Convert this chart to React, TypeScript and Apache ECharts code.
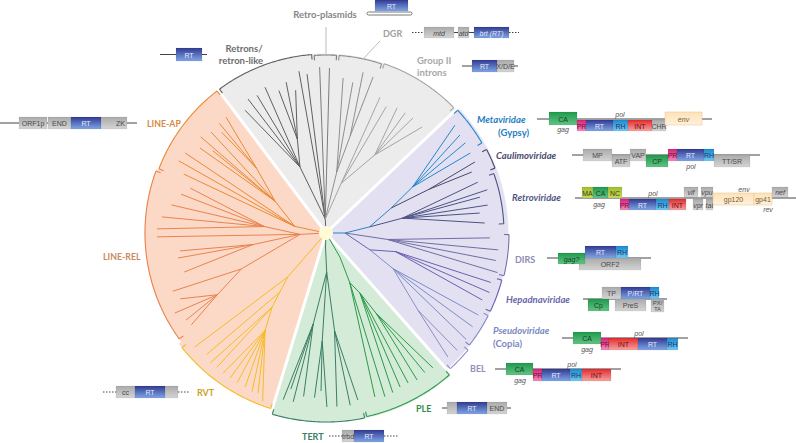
import React, { useEffect, useRef } from 'react';
import * as echarts from 'echarts';

// ---------- DATA ----------
// tree nodes: [id, parent, angle (deg, ccw from east), branch radius, clade]
const treeNodes: [string, string, number, number, string][] = [
  ['g', 'o', 93, 14, 'ret'],
  ['gr', 'g', 111.5, 71, 'ret'],
  ['-', 'gr', 123.4, 147, 'ret'],
  ['-', 'gr', 120.2, 155, 'ret'],
  ['-', 'gr', 116.6, 154, 'ret'],
  ['-', 'gr', 112.7, 158, 'ret'],
  ['gr2', 'gr', 107, 98, 'ret'],
  ['-', 'gr2', 108.3, 150, 'ret'],
  ['-', 'gr2', 104.8, 156, 'ret'],
  ['-', 'gr2', 102, 146, 'ret'],
  ['-', 'g', 99.5, 164, 'ret'],
  ['-', 'g', 96.8, 160, 'ret'],
  ['-', 'g', 92.2, 166, 'rp'],
  ['-', 'g', 88.8, 165, 'rp'],
  ['gd', 'g', 80, 62, 'dgr'],
  ['-', 'gd', 83.7, 156, 'dgr'],
  ['-', 'gd', 79.9, 153, 'dgr'],
  ['gd2', 'gd', 76, 100, 'dgr'],
  ['-', 'gd2', 77, 165, 'dgr'],
  ['-', 'gd2', 73.2, 163, 'dgr'],
  ['gi', 'g', 73, 52, 'g2'],
  ['-', 'gi', 68.3, 146, 'g2'],
  ['-', 'gi', 64.5, 140, 'g2'],
  ['gi2', 'gi', 58, 92, 'g2'],
  ['-', 'gi2', 60.4, 144, 'g2'],
  ['-', 'gi2', 56.6, 144, 'g2'],
  ['-', 'gi2', 52.9, 144, 'g2'],
  ['-', 'gi2', 47.8, 143, 'g2'],
  ['p', 'o', 0, 19, 'meta'],
  ['pm', 'p', 8, 44, 'meta'],
  ['pm2', 'pm', 21, 70, 'meta'],
  ['pmm', 'pm2', 28, 98, 'meta'],
  ['-', 'pmm', 39.9, 168, 'meta'],
  ['-', 'pmm', 36.2, 166, 'meta'],
  ['-', 'pmm', 32.9, 166, 'meta'],
  ['-', 'pmm', 29, 165, 'meta'],
  ['pc', 'pm2', 23, 112, 'caul'],
  ['-', 'pc', 25.5, 165, 'caul'],
  ['-', 'pc', 22.7, 158, 'caul'],
  ['pr', 'pm', 11, 78, 'retro'],
  ['-', 'pr', 18.5, 160, 'retro'],
  ['-', 'pr', 15, 167, 'retro'],
  ['-', 'pr', 13.1, 158, 'retro'],
  ['-', 'pr', 9.8, 164, 'retro'],
  ['-', 'pr', 7.4, 155, 'retro'],
  ['-', 'pr', 3.6, 159, 'retro'],
  ['pd', 'p', 354, 62, 'dirs'],
  ['-', 'pd', 358.3, 164, 'dirs'],
  ['-', 'pd', 354.4, 173, 'dirs'],
  ['-', 'pd', 350.8, 172, 'dirs'],
  ['-', 'pd', 347, 176, 'dirs'],
  ['pq', 'p', 339, 47, 'hep'],
  ['ph', 'pq', 345, 72, 'hep'],
  ['-', 'ph', 343.3, 172, 'hep'],
  ['-', 'ph', 340, 174, 'hep'],
  ['-', 'ph', 336.8, 170, 'hep'],
  ['pb', 'pq', 332, 76, 'pseudo'],
  ['-', 'pb', 331.7, 173, 'pseudo'],
  ['-', 'pb', 327.4, 174, 'pseudo'],
  ['-', 'pb', 322.8, 176, 'pseudo'],
  ['pbl', 'pb', 320, 120, 'bel'],
  ['-', 'pbl', 318.2, 176, 'bel'],
  ['-', 'pbl', 314.5, 174, 'bel'],
  ['t', 'o', 268, 14, 'tert'],
  ['tt', 't', 271, 39, 'tert'],
  ['tt2', 'tt', 262, 92, 'tert'],
  ['-', 'tt2', 255.6, 172, 'tert'],
  ['-', 'tt2', 257.3, 160, 'tert'],
  ['-', 'tt2', 259, 172, 'tert'],
  ['-', 'tt2', 262.2, 165, 'tert'],
  ['tt3', 'tt', 268, 108, 'tert'],
  ['-', 'tt3', 266, 165, 'tert'],
  ['-', 'tt3', 268.2, 158, 'tert'],
  ['-', 'tt3', 270.3, 174, 'tert'],
  ['tt4', 'tt', 275, 98, 'tert'],
  ['-', 'tt4', 273.6, 174, 'tert'],
  ['-', 'tt4', 278, 174, 'tert'],
  ['-', 'tt4', 280.8, 170, 'tert'],
  ['q', 'o', 300, 28, 'ple'],
  ['q2', 'q', 295.6, 55, 'ple'],
  ['-', 'q2', 286.6, 171, 'ple'],
  ['-', 'q2', 289.8, 174, 'ple'],
  ['q3', 'q2', 299.5, 69, 'ple'],
  ['-', 'q3', 292.7, 173, 'ple'],
  ['-', 'q3', 295.7, 171, 'ple'],
  ['-', 'q3', 298.7, 171, 'ple'],
  ['q4', 'q3', 302, 95, 'ple'],
  ['-', 'q4', 301.8, 173, 'ple'],
  ['-', 'q4', 305.3, 171, 'ple'],
  ['-', 'q4', 308.4, 172, 'ple'],
  ['la', 'o', 168, 32, 'lap'],
  ['-', 'la', 157.5, 154, 'lap'],
  ['-', 'la', 153.9, 164, 'lap'],
  ['-', 'la', 150.4, 162, 'lap'],
  ['la2', 'la', 148, 60, 'lap'],
  ['-', 'la2', 146, 152, 'lap'],
  ['-', 'la2', 144, 140, 'lap'],
  ['-', 'la2', 142.5, 158, 'lap'],
  ['-', 'la2', 138.7, 153, 'lap'],
  ['la3', 'la2', 137, 95, 'lap'],
  ['-', 'la3', 136, 145, 'lap'],
  ['-', 'la3', 134.2, 153, 'lap'],
  ['-', 'la3', 130.8, 153, 'lap'],
  ['lr', 'o', 183, 26, 'lrel'],
  ['lr1', 'lr', 174, 62, 'lrel'],
  ['-', 'lr1', 161.7, 143, 'lrel'],
  ['-', 'lr1', 165, 150, 'lrel'],
  ['-', 'lr1', 169.7, 157, 'lrel'],
  ['-', 'lr1', 174.4, 165, 'lrel'],
  ['-', 'lr1', 178.6, 169, 'lrel'],
  ['-', 'lr', 181.3, 169, 'lrel'],
  ['lr2', 'lr', 189, 74, 'lrel'],
  ['-', 'lr2', 187, 147, 'lrel'],
  ['-', 'lr2', 189.6, 150, 'lrel'],
  ['-', 'lr2', 195.4, 147, 'lrel'],
  ['lr3', 'lr', 203, 92, 'lrel'],
  ['-', 'lr3', 200.8, 164, 'lrel'],
  ['lr4', 'lr3', 209.6, 125, 'lrel'],
  ['-', 'lr4', 204.3, 160, 'lrel'],
  ['-', 'lr4', 207.9, 171, 'lrel'],
  ['-', 'lr4', 211.9, 165, 'lrel'],
  ['-', 'lr4', 214.3, 163, 'lrel'],
  ['rv', 'o', 229, 58, 'rvt'],
  ['-', 'rv', 221, 174, 'rvt'],
  ['rv2', 'rv', 232, 75, 'rvt'],
  ['-', 'rv2', 225.5, 170, 'rvt'],
  ['rv3', 'rv2', 234, 92, 'rvt'],
  ['-', 'rv3', 228.3, 174, 'rvt'],
  ['-', 'rv3', 230.9, 173, 'rvt'],
  ['rv4', 'rv3', 238, 115, 'rvt'],
  ['-', 'rv4', 233.7, 174, 'rvt'],
  ['-', 'rv4', 236.5, 174, 'rvt'],
  ['-', 'rv4', 239.3, 174, 'rvt'],
  ['-', 'rv4', 242.3, 174, 'rvt'],
  ['-', 'rv4', 245, 175, 'rvt'],
  ['-', 'rv4', 247, 174, 'rvt'],
  ['-', 'rv4', 249.4, 180, 'rvt'],
];

// clade arcs: [clade, startAngle, endAngle, radius]
const cladeArcs: [string, number, number, number][] = [
  ['ret', 94.6, 126.5, 179], ['rp', 86.6, 93.8, 178], ['dgr', 71.8, 85.8, 178], ['g2', 44.5, 71, 179],
  ['lap', 127.5, 159, 179], ['lrel', 160, 215.8, 181], ['rvt', 218.5, 252.5, 184],
  ['tert', 253.5, 281.8, 189], ['ple', 282.5, 311, 188],
  ['meta', 30, 43, 180], ['caul', 21, 27.5, 181], ['retro', 3, 19.5, 178], ['dirs', 346.5, 359.5, 183],
  ['hep', 334.5, 345, 182], ['pseudo', 322, 333, 182], ['bel', 312.5, 320.5, 184],
];

// background bands: [band, startAngle, endAngle, radius]
const sectorBands: [string, number, number, number][] = [
  ['gray', 43.5, 127, 179],
  ['orange', 127, 159.5, 179], ['orange', 159.5, 217, 181], ['orange', 217, 253, 184],
  ['green', 253, 311.5, 189],
  ['purple', 311.5, 403.5, 182],
];
const separatorAngles = [43.5, 127, 253, 311.5];

// ---------- STYLE ----------
const CLADE_COLORS: Record<string, string> = {
  ret: '#606060', rp: '#7c7c7c', dgr: '#8f8f8f', g2: '#a5a5a5',
  lap: '#ea8a35', lrel: '#e9834c', rvt: '#f6bc25',
  tert: '#3b7f64', ple: '#2c9b48',
  meta: '#2587cb', caul: '#4b4868', retro: '#4b5385', dirs: '#6f6ea5', hep: '#6a60b2', pseudo: '#7d8bca', bel: '#8e8ec4',
};
const BAND_COLORS: Record<string, string> = { gray: '#ececec', orange: '#fcd9c7', green: '#d4ebd7', purple: '#e3e1f1' };

const LABEL_FONT = 'Lato, "Open Sans", sans-serif';
// [text, x, y, align, color, italic, size]
const CLADE_LABELS: [string, number, number, string, string, boolean, number][] = [
  ['Retro-plasmids', 325, 14, 'center', '#858585', false, 9.5],
  ['Retrons/', 244, 48, 'center', '#6e6e6e', false, 9.5],
  ['retron-like', 241, 60, 'center', '#6e6e6e', false, 9.5],
  ['DGR', 383, 33, 'left', '#a0a0a0', false, 9],
  ['Group II', 417, 60, 'left', '#a8a8a8', false, 9.5],
  ['introns', 417, 72, 'left', '#a8a8a8', false, 9.5],
  ['LINE-AP', 147, 123, 'left', '#d98b45', false, 8.8],
  ['LINE-REL', 103, 256, 'left', '#c98a5e', false, 8.8],
  ['RVT', 197, 392, 'left', '#c9a42a', false, 9],
  ['TERT', 302, 436, 'left', '#3e7d66', false, 9],
  ['PLE', 416, 408, 'left', '#2e8f45', false, 9],
  ['BEL', 470, 368, 'left', '#9092b8', false, 9],
  ['Pseudoviridae', 493, 330, 'left', '#7b88c2', true, 9.5],
  ['(Copia)', 493, 343, 'left', '#7b88c2', false, 9.5],
  ['Hepadnaviridae', 506, 299, 'left', '#6b67aa', true, 9.5],
  ['DIRS', 515, 259, 'left', '#8d8cb3', false, 9],
  ['Retroviridae', 512, 197, 'left', '#4f5585', true, 9.5],
  ['Caulimoviridae', 496, 155, 'left', '#4c4a6e', true, 9.5],
  ['Metaviridae', 477, 119, 'left', '#2580c0', true, 9.5],
  ['(Gypsy)', 498, 132, 'left', '#2580c0', false, 9.5],
];

const KIND: Record<string, { c: [string, string]; t: string; s?: string }> = {
  rt: { c: ['#323a92', '#7fa6e6'], t: '#e3eafb' },
  gray: { c: ['#aaaaaa', '#d4d4d4'], t: '#4a4a4a' },
  rh: { c: ['#1b8ad0', '#74c6f0'], t: '#17386a' },
  pr: { c: ['#dc1f78', '#f08ab8'], t: '#6a0f3a' },
  int: { c: ['#e52a2a', '#f6a2a2'], t: '#6e1212' },
  gr: { c: ['#1f9a4c', '#62c383'], t: '#153f25' },
  env: { c: ['#fde2b8', '#fff1dc'], t: '#7a5a30', s: '#e5c189' },
  ma: { c: ['#9fbe2e', '#cad95e'], t: '#3a3a10' },
};

type BoxSpec = [string, number, number, number, number, string, string?];
type GeneMap = { lines: [number, number, number, number][]; boxes: BoxSpec[]; notes: [string, number, number][] };
const GENE_MAPS: GeneMap[] = [
  { lines: [], boxes: [['RT', 375, 408, 0, 11, 'rt']], notes: [] },
  { lines: [[160, 207, 54.5, 0]], boxes: [['RT', 176, 202, 48, 61, 'rt']], notes: [] },
  { lines: [[0, 137, 123, 0]], boxes: [['ORF1p', 19, 47, 117, 129, 'gray'], ['END', 48, 71, 117, 129, 'gray'], ['RT', 71, 101, 117, 129, 'rt'], ['ZK', 101, 127, 117, 129, 'gray', 'r']], notes: [] },
  { lines: [[412, 424, 32.5, 1], [424, 509, 32.5, 0], [509, 519, 32.5, 1]], boxes: [['mtd', 424, 454, 27, 38, 'gray', 'i'], ['atd', 458, 469, 27, 38, 'gray', 'i'], ['brt (RT)', 474, 509, 27, 38, 'rt', 'i']], notes: [] },
  { lines: [[462, 518, 66, 0]], boxes: [['RT', 472, 497, 60, 72, 'rt'], ['X/D/E', 497, 514, 60, 72, 'gray']], notes: [] },
  { lines: [[537, 712, 119, 0]], boxes: [['CA', 549, 577, 112, 125, 'gr'], ['PR', 577, 586, 120, 131, 'pr'], ['RT', 586, 613, 120, 131, 'rt'], ['RH', 613, 628, 120, 131, 'rh'], ['INT', 628, 652, 120, 131, 'int'], ['CHR', 652, 666, 120, 131, 'gray'], ['env', 665, 702, 112, 125, 'env', 'i']], notes: [['gag', 563, 129], ['pol', 620, 114]] },
  { lines: [[572, 760, 155, 0]], boxes: [['MP', 583, 612, 149, 161, 'gray'], ['ATF', 612, 630, 155, 167, 'gray'], ['VAP', 630, 646, 149, 161, 'gray'], ['CP', 646, 668, 155, 167, 'gr'], ['PR', 668, 677, 149, 161, 'pr'], ['RT', 677, 704, 149, 161, 'rt'], ['RH', 704, 714, 149, 161, 'rh'], ['TT/SR', 714, 750, 155, 167, 'gray']], notes: [['pol', 691, 166]] },
  { lines: [[575, 796, 198, 0]], boxes: [['MA', 582, 593, 187, 198, 'ma'], ['CA', 593, 608, 187, 198, 'gr'], ['NC', 608, 622, 187, 198, 'ma'], ['PR', 620, 629, 199, 210, 'pr'], ['RT', 629, 656, 199, 210, 'rt'], ['RH', 656, 669, 199, 210, 'rh'], ['INT', 669, 686, 199, 210, 'int'], ['vif', 684, 698, 187, 197, 'gray', 'i'], ['vpr', 693, 703, 199, 210, 'gray', 'i'], ['vpu', 701, 713, 187, 197, 'gray', 'i'], ['tat', 706, 713, 199, 210, 'gray', 'i'], ['gp120', 713, 754, 193, 205, 'env'], ['gp41', 754, 772, 193, 205, 'env'], ['nef', 772, 788, 187, 197, 'gray', 'i']], notes: [['gag', 599, 204], ['pol', 653, 193], ['env', 744, 189], ['rev', 768, 209]] },
  { lines: [[547, 651, 258, 0]], boxes: [['ORF2', 579, 641, 258, 270, 'gray'], ['gag?', 558, 585, 253, 264, 'gr', 'i'], ['RT', 585, 616, 246, 258, 'rt'], ['RH', 616, 628, 246, 258, 'rh']], notes: [] },
  { lines: [[583, 667, 299, 0]], boxes: [['TP', 602, 621, 287, 299, 'gray'], ['P/RT', 621, 650, 287, 299, 'rt'], ['RH', 650, 659, 287, 299, 'rh'], ['Cp', 588, 609, 299, 311, 'gr'], ['PreS', 615, 646, 299, 311, 'gray'], ['PX/\nTA', 651, 664, 299, 312, 'gray']], notes: [] },
  { lines: [[562, 688, 338, 0]], boxes: [['CA', 573, 601, 332, 344, 'gr'], ['PR', 601, 609, 338, 350, 'pr'], ['INT', 609, 638, 338, 350, 'int'], ['RT', 638, 667, 338, 350, 'rt'], ['RH', 667, 678, 338, 350, 'rh']], notes: [['gag', 587, 349], ['pol', 639, 333]] },
  { lines: [[495, 621, 369, 0]], boxes: [['CA', 506, 533, 363, 375, 'gr'], ['PR', 533, 542, 369, 381, 'pr'], ['RT', 542, 570, 369, 381, 'rt'], ['RH', 570, 582, 369, 381, 'rh'], ['INT', 582, 611, 369, 381, 'int']], notes: [['gag', 520, 380], ['pol', 572, 364]] },
  { lines: [[442, 511, 408, 0]], boxes: [['', 447, 457, 402, 414, 'gray'], ['RT', 457, 487, 402, 414, 'rt'], ['END', 487, 507, 402, 414, 'gray']], notes: [] },
  { lines: [[329, 342, 436, 1], [384, 398, 436, 1]], boxes: [['trbd', 342, 354, 430, 442, 'gray'], ['RT', 354, 384, 430, 442, 'rt']], notes: [] },
  { lines: [[103, 116, 392, 1], [178, 190, 392, 1]], boxes: [['cc', 116, 135, 386, 398, 'gray'], ['RT', 135, 165, 386, 398, 'rt'], ['', 165, 178, 386, 398, 'gray']], notes: [] },
];

// ---------- derived tables ----------
const nodePos: Record<string, [number, number]> = { o: [0, 0] };
treeNodes.forEach(([id, , a, r]) => { if (id !== '-') nodePos[id] = [r, a]; });
const edgeData = treeNodes.map(([, parent, a, r]) => {
  const p = nodePos[parent];
  return [p[0], p[1], r, a];
});
const edgeClade = treeNodes.map((n) => n[4]);
const arcData = cladeArcs.map(([, a1, a2, R]) => [R, a1, a2]);
const bandData = sectorBands.map(([, a1, a2, R]) => [R, a1, a2]);
const sepData = separatorAngles.map((a) => [192, a]);

const norm = (a: number) => ((a % 360) + 360) % 360;

function buildGraphics() {
  const els: any[] = [];
  let z2 = 0;
  els.push({ type: 'line', shape: { x1: 326, y1: 56, x2: 326, y2: 27 }, style: { stroke: '#aaaaaa', lineWidth: 0.8 } });
  els.push({ type: 'line', shape: { x1: 363, y1: 59, x2: 380, y2: 41 }, style: { stroke: '#aaaaaa', lineWidth: 0.8 } });
  els.push({ type: 'rect', shape: { x: 367, y: 12, width: 45, height: 3, r: 1.5 }, style: { fill: '#ffffff', stroke: '#555', lineWidth: 0.8 } });
  CLADE_LABELS.forEach(([text, x, y, align, color, italic, size]) => {
    els.push({
      type: 'text', z2: z2++,
      style: {
        text, x, y, align, verticalAlign: 'middle', textAlign: align, textVerticalAlign: 'middle',
        font: `${italic ? 'italic ' : ''}bold ${size}px ${LABEL_FONT}`, fill: color,
      },
    });
  });
  GENE_MAPS.forEach((g) => {
    g.lines.forEach(([x1, x2, y, d]) => {
      els.push({ type: 'line', z2: z2++, shape: { x1, y1: y, x2, y2: y }, style: { stroke: '#444', lineWidth: 1, lineDash: d ? [1.5, 1.5] : null } });
    });
    g.boxes.forEach(([label, x0, x1, y0, y1, kind, flag]) => {
      const k = KIND[kind];
      els.push({
        type: 'rect', z2: z2++,
        shape: { x: x0, y: y0, width: x1 - x0, height: y1 - y0 },
        style: {
          fill: new echarts.graphic.LinearGradient(0, 0, 0, 1, [{ offset: 0, color: k.c[0] }, { offset: 1, color: k.c[1] }]),
          stroke: k.s || 'rgba(0,0,0,0.12)', lineWidth: 0.5,
        },
      });
      if (label) {
        const right = flag === 'r';
        els.push({
          type: 'text', z2: z2++,
          style: {
            text: label, x: right ? x1 - 2 : (x0 + x1) / 2, y: (y0 + y1) / 2 + 0.5,
            align: right ? 'right' : 'center', textAlign: right ? 'right' : 'center',
            verticalAlign: 'middle', textVerticalAlign: 'middle', lineHeight: 6,
            font: `${flag === 'i' ? 'italic ' : ''}${label.includes('\n') ? 6 : 7}px "Liberation Sans", Arial, sans-serif`, fill: k.t,
          },
        });
      }
    });
    g.notes.forEach(([text, x, y]) => {
      els.push({
        type: 'text', z2: z2++,
        style: { text, x, y, align: 'center', textAlign: 'center', verticalAlign: 'middle', textVerticalAlign: 'middle', font: 'italic 7px "Liberation Sans", Arial, sans-serif', fill: '#555' },
      });
    });
  });
  return els;
}

export default function App() {
  const ref = useRef<HTMLDivElement>(null);
  useEffect(() => {
    if (!ref.current) return;
    const chart = echarts.init(ref.current, undefined, { renderer: 'svg' });
    const option: any = {
      animation: false,
      backgroundColor: '#ffffff',
      polar: { center: [326, 233], radius: 190 },
      angleAxis: { type: 'value', min: 0, max: 360, startAngle: 0, clockwise: false, show: false },
      radiusAxis: { type: 'value', min: 0, max: 190, show: false },
      series: [
        {
          type: 'custom', coordinateSystem: 'polar', z: 1, silent: true,
          data: bandData,
          renderItem: (params: any, api: any) => {
            const R = api.value(0), a1 = api.value(1), a2 = api.value(2);
            const band = sectorBands[params.dataIndex][0];
            const pts: number[][] = [api.coord([0, 0])];
            const n = Math.ceil(a2 - a1) * 2;
            for (let i = 0; i <= n; i++) pts.push(api.coord([R, norm(a1 + ((a2 - a1) * i) / n)]));
            return { type: 'polygon', shape: { points: pts }, style: { fill: BAND_COLORS[band], stroke: BAND_COLORS[band], lineWidth: 0.6 } };
          },
        },
        {
          type: 'custom', coordinateSystem: 'polar', z: 2, silent: true,
          data: sepData,
          renderItem: (params: any, api: any) => {
            const c = api.coord([0, 0]);
            const p = api.coord([api.value(0), api.value(1)]);
            return { type: 'line', shape: { x1: c[0], y1: c[1], x2: p[0], y2: p[1] }, style: { stroke: '#ffffff', lineWidth: 3 } };
          },
        },
        {
          type: 'custom', coordinateSystem: 'polar', z: 3, silent: true,
          data: edgeData,
          renderItem: (params: any, api: any) => {
            const p1 = api.coord([api.value(0), norm(api.value(1))]);
            const p2 = api.coord([api.value(2), norm(api.value(3))]);
            return { type: 'line', shape: { x1: p1[0], y1: p1[1], x2: p2[0], y2: p2[1] }, style: { stroke: CLADE_COLORS[edgeClade[params.dataIndex]], lineWidth: 1 } };
          },
        },
        {
          type: 'custom', coordinateSystem: 'polar', z: 4, silent: true,
          data: arcData,
          renderItem: (params: any, api: any) => {
            const R = api.value(0), a1 = api.value(1), a2 = api.value(2);
            const color = CLADE_COLORS[cladeArcs[params.dataIndex][0]];
            const pts: number[][] = [];
            const n = Math.max(4, Math.ceil((a2 - a1) * 2));
            for (let i = 0; i <= n; i++) pts.push(api.coord([R, norm(a1 + ((a2 - a1) * i) / n)]));
            const t1 = api.coord([R - 5, norm(a1)]);
            const t2 = api.coord([R - 5, norm(a2)]);
            const st = { stroke: color, lineWidth: 1.1, fill: null };
            return {
              type: 'group',
              children: [
                { type: 'polyline', shape: { points: pts }, style: st },
                { type: 'line', shape: { x1: pts[0][0], y1: pts[0][1], x2: t1[0], y2: t1[1] }, style: st },
                { type: 'line', shape: { x1: pts[n][0], y1: pts[n][1], x2: t2[0], y2: t2[1] }, style: st },
              ],
            };
          },
        },
        {
          type: 'custom', coordinateSystem: 'polar', z: 5, silent: true,
          data: [[0, 0]],
          renderItem: (params: any, api: any) => {
            const c = api.coord([0, 0]);
            return { type: 'circle', shape: { cx: c[0], cy: c[1], r: 7 }, style: { fill: '#fffbd6' } };
          },
        },
      ],
      graphic: { elements: buildGraphics() },
    };
    chart.setOption(option);
    return () => chart.dispose();
  }, []);
  return <div ref={ref} style={{ position: 'fixed', left: 0, top: 0, width: '796px', height: '443px', background: '#fff' }} />;
}
